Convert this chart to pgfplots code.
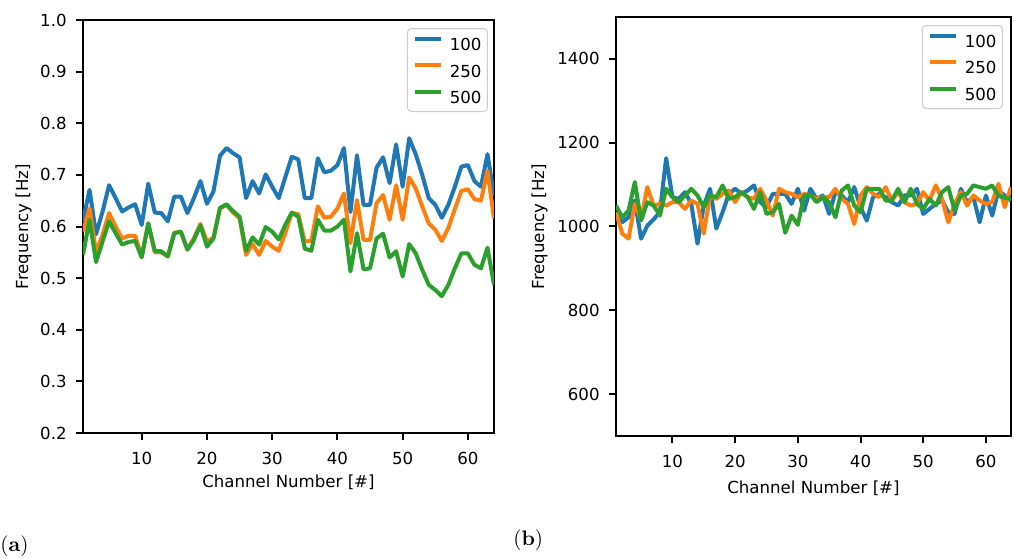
\documentclass[border=0pt]{standalone}
\usepackage{fontspec}
\setsansfont{DejaVu Sans}
\usepackage{pgfplots}
\usepackage{pgfplotstable}
\pgfplotsset{compat=1.18}

\definecolor{tabblue}{HTML}{1F77B4}
\definecolor{taborange}{HTML}{FF7F0E}
\definecolor{tabgreen}{HTML}{2CA02C}

% short line sample in the legend
\pgfplotsset{legend image code/.code={\draw[#1] (0pt,3pt) -- (13pt,3pt);}}

\pgfplotsset{
  chanaxis/.style={
    scale only axis,
    xmin=1, xmax=64,
    xtick={10,20,...,60},
    tick pos=left,
    tick align=outside,
    major tick length=3.5pt,
    axis line style={line width=1pt},
    every tick/.style={black, line width=1pt},
    tick label style={font=\sffamily\fontsize{8.3}{10}\selectfont, inner sep=0pt},
    xticklabel style={yshift=-6pt},
    yticklabel style={xshift=-4.5pt},
    /pgf/number format/assume math mode=true,
    /pgf/number format/1000 sep={},
    label style={font=\sffamily\fontsize{8.3}{10}\selectfont, inner sep=0pt},
    xlabel={Channel Number [\#]},
    ylabel={Frequency [Hz]},
    every axis plot/.append style={line width=2pt, line join=round},
    legend cell align=left,
    legend style={
      at={(1,1)}, anchor=north east,
      draw=black!20, line width=0.5pt, rounded corners=2pt,
      fill=white, fill opacity=0.8, text opacity=1,
      font=\sffamily\fontsize{8.3}{10}\selectfont,
      inner xsep=3pt, inner ysep=4pt,
      row sep=6.25pt,
      nodes={inner sep=0pt, text height=6pt, text depth=0pt},
      /tikz/every odd column/.append style={column sep=3.2pt},
    },
  },
}

% channel, 100, 250, 500
\pgfplotstableread{
ch  s100   s250   s500
1   0.610  0.590  0.545
2   0.671  0.635  0.613
3   0.585  0.550  0.531
4   0.629  0.584  0.571
5   0.680  0.626  0.610
6   0.655  0.600  0.587
7   0.629  0.577  0.565
8   0.637  0.582  0.570
9   0.643  0.582  0.572
10  0.603  0.542  0.540
11  0.683  0.606  0.606
12  0.627  0.550  0.553
13  0.626  0.550  0.552
14  0.610  0.542  0.542
15  0.658  0.588  0.587
16  0.658  0.590  0.590
17  0.626  0.556  0.555
18  0.655  0.577  0.574
19  0.688  0.605  0.602
20  0.644  0.571  0.561
21  0.668  0.578  0.577
22  0.737  0.635  0.636
23  0.752  0.642  0.643
24  0.742  0.627  0.630
25  0.734  0.616  0.619
26  0.655  0.545  0.553
27  0.688  0.566  0.579
28  0.664  0.545  0.565
29  0.701  0.572  0.599
30  0.677  0.561  0.590
31  0.655  0.553  0.575
32  0.695  0.587  0.603
33  0.735  0.626  0.627
34  0.730  0.624  0.619
35  0.655  0.571  0.557
36  0.655  0.572  0.553
37  0.732  0.639  0.613
38  0.705  0.617  0.592
39  0.708  0.619  0.592
40  0.719  0.635  0.600
41  0.752  0.664  0.613
42  0.628  0.568  0.513
43  0.738  0.651  0.587
44  0.642  0.574  0.517
45  0.642  0.574  0.519
46  0.714  0.645  0.577
47  0.734  0.661  0.586
48  0.684  0.613  0.540
49  0.759  0.680  0.552
50  0.677  0.613  0.503
51  0.771  0.695  0.566
52  0.740  0.674  0.548
53  0.700  0.639  0.516
54  0.655  0.606  0.487
55  0.642  0.594  0.477
56  0.617  0.572  0.465
57  0.642  0.597  0.487
58  0.677  0.634  0.519
59  0.716  0.669  0.548
60  0.719  0.672  0.548
61  0.688  0.653  0.526
62  0.677  0.650  0.519
63  0.740  0.708  0.559
64  0.660  0.616  0.487
}\tableA

\pgfplotstableread{
ch  s100  s250  s500
1   1026  1034  1050
2   1010  983   1022
3   1022  971   1038
4   1062  1054  1106
5   971   1018  1014
6   1002  1094  1058
7   1017  1050  1050
8   1034  1054  1026
9   1163  1050  1090
10  1070  1058  1070
11  1066  1058  1058
12  1082  1042  1074
13  1054  1062  1090
14  959   1054  1074
15  1050  983   1046
16  1090  1074  1074
17  995   1066  1070
18  1034  1078  1098
19  1078  1086  1066
20  1090  1058  1070
21  1078  1082  1082
22  1086  1070  1070
23  1098  1066  1042
24  1058  1090  1082
25  1046  1062  1030
26  1078  1026  1034
27  1078  1090  1054
28  1078  1082  985
29  1054  1078  1026
30  1090  1070  1004
31  1038  1078  1074
32  1090  1074  1076
33  1066  1066  1058
34  1074  1070  1070
35  1030  1070  1058
36  1082  1090  1022
37  1074  1066  1086
38  1058  1054  1098
39  1094  1006  1050
40  1046  1074  1034
41  1014  1094  1090
42  1070  1078  1090
43  1078  1070  1090
44  1070  1094  1062
45  1058  1062  1062
46  1050  1082  1090
47  1074  1058  1058
48  1074  1050  1090
49  1090  1054  1054
50  1030  1082  1042
51  1042  1062  1066
52  1054  1098  1050
53  1062  1066  1082
54  1034  1010  1094
55  1030  1054  1038
56  1090  1082  1074
57  1058  1050  1078
58  1070  1074  1098
59  1010  1062  1094
60  1074  1054  1090
61  1026  1058  1098
62  1086  1102  1074
63  1074  1046  1068
64  1062  1094  1066
}\tableB

\begin{document}
\begin{tikzpicture}
\useasboundingbox (0,0) rectangle (507pt,279pt);

% (a) frequency of the 64 channels, 0.2--1.0 Hz
\begin{axis}[chanaxis,
  at={(41.5pt,62.5pt)}, anchor=south west,
  width=205.5pt, height=206.5pt,
  ymin=0.2, ymax=1.0,
  ytick={0.2,0.3,...,1.0},
  yticklabel style={/pgf/number format/.cd, fixed, fixed zerofill, precision=1},
  xlabel style={at={([yshift=-20.8pt]axis description cs:0.5,0)}, anchor=north},
  ylabel style={at={([xshift=-25.5pt]axis description cs:0,0.5)}, anchor=south},
  legend style={xshift=-3pt, yshift=-4pt},
]
\addplot[tabblue] table[x=ch, y=s100] {\tableA};
\addplot[taborange] table[x=ch, y=s250] {\tableA};
\addplot[tabgreen] table[x=ch, y=s500] {\tableA};
\legend{100,250,500}
\end{axis}

% (b) frequency of the 64 channels, 500--1500 Hz
\begin{axis}[chanaxis,
  at={(308pt,61pt)}, anchor=south west,
  width=197.5pt, height=209.5pt,
  ymin=500, ymax=1500,
  ytick={600,800,...,1400},
  xlabel style={at={([yshift=-22pt]axis description cs:0.5,0)}, anchor=north},
  ylabel style={at={([xshift=-34pt]axis description cs:0,0.5)}, anchor=south},
  legend style={xshift=-4pt, yshift=-4pt},
]
\addplot[tabblue] table[x=ch, y=s100] {\tableB};
\addplot[taborange] table[x=ch, y=s250] {\tableB};
\addplot[tabgreen] table[x=ch, y=s500] {\tableB};
\legend{100,250,500}
\end{axis}

\node[anchor=west, inner sep=0pt, font=\rmfamily\fontsize{10.5}{12}\selectfont] at (0pt,6pt) {(\textbf{a})};
\node[anchor=west, inner sep=0pt, font=\rmfamily\fontsize{10.5}{12}\selectfont] at (256.5pt,9pt) {(\textbf{b})};
\end{tikzpicture}
\end{document}
